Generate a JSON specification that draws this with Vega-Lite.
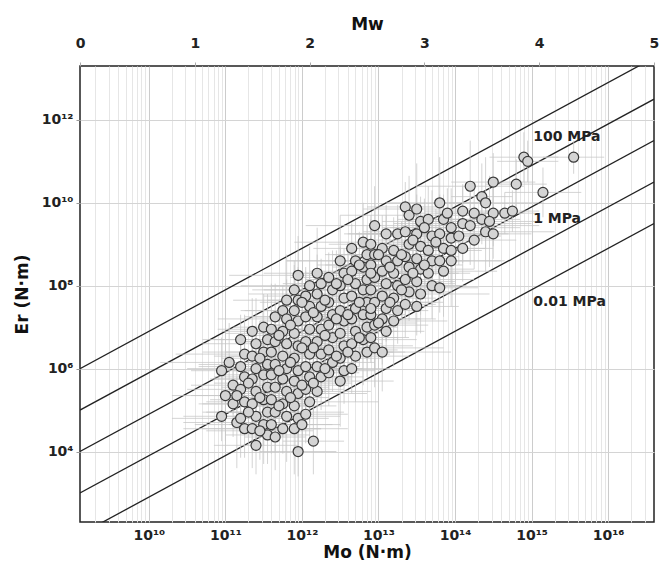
{
  "$schema": "https://vega.github.io/schema/vega-lite/v6.json",
  "width": 574,
  "height": 456,
  "autosize": "none",
  "padding": {"left": 80, "top": 66, "right": 6, "bottom": 44},
  "background": "white",
  "config": {
    "view": {"stroke": "#222", "strokeWidth": 1.5},
    "font": "DejaVu Sans"
  },
  "datasets": {
    "lines": [
      {"s": "100 MPa", "mo": 1.2589e9, "er": 1e6}, {"s": "100 MPa", "mo": 3.9811e16, "er": 3.162e13},
      {"s": "10 MPa", "mo": 1.2589e9, "er": 1e5}, {"s": "10 MPa", "mo": 3.9811e16, "er": 3.162e12},
      {"s": "1 MPa", "mo": 1.2589e9, "er": 1e4}, {"s": "1 MPa", "mo": 3.9811e16, "er": 3.162e11},
      {"s": "0.1 MPa", "mo": 1.2589e9, "er": 1e3}, {"s": "0.1 MPa", "mo": 3.9811e16, "er": 3.162e10},
      {"s": "0.01 MPa", "mo": 1.2589e9, "er": 1e2}, {"s": "0.01 MPa", "mo": 3.9811e16, "er": 3.162e9}
    ],
    "labels": [
      {"label": "100 MPa", "mo": 1.05e15, "er": 3.9e11},
      {"label": "1 MPa", "mo": 1.05e15, "er": 4.07e9},
      {"label": "0.01 MPa", "mo": 1.05e15, "er": 4.07e7}
    ],
    "pts": [
      {"mo":8.91e10,"er":8.91e5,"mo1":3.55e10,"mo2":2.24e11,"er1":1.41e5,"er2":5.62e6},
      {"mo":1e11,"er":2.24e5,"mo1":2e10,"mo2":5.01e11,"er1":1.78e4,"er2":2.82e6},
      {"mo":8.91e10,"er":7.08e4,"mo1":2.82e10,"mo2":2.82e11,"er1":1.78e4,"er2":2.82e5},
      {"mo":1.12e11,"er":1.41e6,"mo1":1.41e10,"mo2":8.91e11,"er1":1.58e5,"er2":1.26e7},
      {"mo":1.26e11,"er":3.98e5,"mo1":3.55e10,"mo2":4.47e11,"er1":7.94e4,"er2":2e6},
      {"mo":1.26e11,"er":1.41e5,"mo1":5.01e10,"mo2":3.16e11,"er1":2.24e4,"er2":8.91e5},
      {"mo":1.41e11,"er":5.01e4,"mo1":2.82e10,"mo2":7.08e11,"er1":3.98e3,"er2":6.31e5},
      {"mo":1.58e11,"er":5.01e6,"mo1":5.01e10,"mo2":5.01e11,"er1":1.26e6,"er2":2e7},
      {"mo":1.78e11,"er":2.24e6,"mo1":2.24e10,"mo2":1.41e12,"er1":2.51e5,"er2":2e7},
      {"mo":1.58e11,"er":1.12e6,"mo1":4.47e10,"mo2":5.62e11,"er1":2.24e5,"er2":5.62e6},
      {"mo":1.78e11,"er":6.31e5,"mo1":7.08e10,"mo2":4.47e11,"er1":1e5,"er2":3.98e6},
      {"mo":1.58e11,"er":3.16e5,"mo1":3.16e10,"mo2":7.94e11,"er1":2.51e4,"er2":3.98e6},
      {"mo":1.78e11,"er":1.58e5,"mo1":5.62e10,"mo2":5.62e11,"er1":3.98e4,"er2":6.31e5},
      {"mo":1.58e11,"er":6.31e4,"mo1":2e10,"mo2":1.26e12,"er1":7.08e3,"er2":5.62e5},
      {"mo":1.78e11,"er":3.55e4,"mo1":5.01e10,"mo2":6.31e11,"er1":7.08e3,"er2":1.78e5},
      {"mo":2.24e11,"er":7.94e6,"mo1":8.91e10,"mo2":5.62e11,"er1":1.26e6,"er2":5.01e7},
      {"mo":2.51e11,"er":3.98e6,"mo1":5.01e10,"mo2":1.26e12,"er1":3.16e5,"er2":5.01e7},
      {"mo":2.24e11,"er":2e6,"mo1":7.08e10,"mo2":7.08e11,"er1":5.01e5,"er2":7.94e6},
      {"mo":2.51e11,"er":1e6,"mo1":3.16e10,"mo2":2e12,"er1":1.12e5,"er2":8.91e6},
      {"mo":2.24e11,"er":5.62e5,"mo1":6.31e10,"mo2":7.94e11,"er1":1.12e5,"er2":2.82e6},
      {"mo":2.51e11,"er":2.82e5,"mo1":1e11,"mo2":6.31e11,"er1":4.47e4,"er2":1.78e6},
      {"mo":2.24e11,"er":1.41e5,"mo1":4.47e10,"mo2":1.12e12,"er1":1.12e4,"er2":1.78e6},
      {"mo":2.51e11,"er":7.08e4,"mo1":7.94e10,"mo2":7.94e11,"er1":1.78e4,"er2":2.82e5},
      {"mo":2.24e11,"er":3.55e4,"mo1":2.82e10,"mo2":1.78e12,"er1":3.98e3,"er2":3.16e5},
      {"mo":2.51e11,"er":1.41e4,"mo1":7.08e10,"mo2":8.91e11,"er1":2.82e3,"er2":7.08e4},
      {"mo":3.16e11,"er":1e7,"mo1":1.26e11,"mo2":7.94e11,"er1":1.58e6,"er2":6.31e7},
      {"mo":3.55e11,"er":5.01e6,"mo1":7.08e10,"mo2":1.78e12,"er1":3.98e5,"er2":6.31e7},
      {"mo":3.16e11,"er":2.51e6,"mo1":1e11,"mo2":1e12,"er1":6.31e5,"er2":1e7},
      {"mo":3.55e11,"er":1.26e6,"mo1":4.47e10,"mo2":2.82e12,"er1":1.41e5,"er2":1.12e7},
      {"mo":3.16e11,"er":7.08e5,"mo1":8.91e10,"mo2":1.12e12,"er1":1.41e5,"er2":3.55e6},
      {"mo":3.55e11,"er":3.55e5,"mo1":1.41e11,"mo2":8.91e11,"er1":5.62e4,"er2":2.24e6},
      {"mo":3.16e11,"er":1.78e5,"mo1":6.31e10,"mo2":1.58e12,"er1":1.41e4,"er2":2.24e6},
      {"mo":3.55e11,"er":8.91e4,"mo1":1.12e11,"mo2":1.12e12,"er1":2.24e4,"er2":3.55e5},
      {"mo":3.16e11,"er":4.47e4,"mo1":3.98e10,"mo2":2.51e12,"er1":5.01e3,"er2":3.98e5},
      {"mo":3.55e11,"er":2.51e4,"mo1":1e11,"mo2":1.26e12,"er1":5.01e3,"er2":1.26e5},
      {"mo":4.47e11,"er":1.78e7,"mo1":1.78e11,"mo2":1.12e12,"er1":2.82e6,"er2":1.12e8},
      {"mo":3.98e11,"er":8.91e6,"mo1":7.94e10,"mo2":2e12,"er1":7.08e5,"er2":1.12e8},
      {"mo":4.47e11,"er":4.47e6,"mo1":1.41e11,"mo2":1.41e12,"er1":1.12e6,"er2":1.78e7},
      {"mo":3.98e11,"er":2.51e6,"mo1":5.01e10,"mo2":3.16e12,"er1":2.82e5,"er2":2.24e7},
      {"mo":4.47e11,"er":1.26e6,"mo1":1.26e11,"mo2":1.58e12,"er1":2.51e5,"er2":6.31e6},
      {"mo":3.98e11,"er":7.08e5,"mo1":1.58e11,"mo2":1e12,"er1":1.12e5,"er2":4.47e6},
      {"mo":4.47e11,"er":3.55e5,"mo1":8.91e10,"mo2":2.24e12,"er1":2.82e4,"er2":4.47e6},
      {"mo":3.98e11,"er":1.78e5,"mo1":1.26e11,"mo2":1.26e12,"er1":4.47e4,"er2":7.08e5},
      {"mo":4.47e11,"er":8.91e4,"mo1":5.62e10,"mo2":3.55e12,"er1":1e4,"er2":7.94e5},
      {"mo":3.98e11,"er":4.47e4,"mo1":1.12e11,"mo2":1.41e12,"er1":8.91e3,"er2":2.24e5},
      {"mo":4.47e11,"er":2.24e4,"mo1":1.78e11,"mo2":1.12e12,"er1":3.55e3,"er2":1.41e5},
      {"mo":6.31e11,"er":4.47e7,"mo1":1.26e11,"mo2":3.16e12,"er1":3.55e6,"er2":5.62e8},
      {"mo":5.62e11,"er":2.51e7,"mo1":1.78e11,"mo2":1.78e12,"er1":6.31e6,"er2":1e8},
      {"mo":6.31e11,"er":1.58e7,"mo1":7.94e10,"mo2":5.01e12,"er1":1.78e6,"er2":1.41e8},
      {"mo":5.62e11,"er":7.94e6,"mo1":1.58e11,"mo2":2e12,"er1":1.58e6,"er2":3.98e7},
      {"mo":6.31e11,"er":3.98e6,"mo1":2.51e11,"mo2":1.58e12,"er1":6.31e5,"er2":2.51e7},
      {"mo":5.62e11,"er":2e6,"mo1":1.12e11,"mo2":2.82e12,"er1":1.58e5,"er2":2.51e7},
      {"mo":6.31e11,"er":1e6,"mo1":2e11,"mo2":2e12,"er1":2.51e5,"er2":3.98e6},
      {"mo":5.62e11,"er":5.62e5,"mo1":7.08e10,"mo2":4.47e12,"er1":6.31e4,"er2":5.01e6},
      {"mo":6.31e11,"er":2.82e5,"mo1":1.78e11,"mo2":2.24e12,"er1":5.62e4,"er2":1.41e6},
      {"mo":5.62e11,"er":1.41e5,"mo1":2.24e11,"mo2":1.41e12,"er1":2.24e4,"er2":8.91e5},
      {"mo":6.31e11,"er":7.08e4,"mo1":1.26e11,"mo2":3.16e12,"er1":5.62e3,"er2":8.91e5},
      {"mo":5.62e11,"er":3.55e4,"mo1":1.78e11,"mo2":1.78e12,"er1":8.91e3,"er2":1.41e5},
      {"mo":8.91e11,"er":1.78e8,"mo1":1.12e11,"mo2":7.08e12,"er1":2e7,"er2":1.58e9},
      {"mo":7.94e11,"er":7.94e7,"mo1":2.24e11,"mo2":2.82e12,"er1":1.58e7,"er2":3.98e8},
      {"mo":8.91e11,"er":4.47e7,"mo1":3.55e11,"mo2":2.24e12,"er1":7.08e6,"er2":2.82e8},
      {"mo":7.94e11,"er":2.51e7,"mo1":1.58e11,"mo2":3.98e12,"er1":2e6,"er2":3.16e8},
      {"mo":8.91e11,"er":1.41e7,"mo1":2.82e11,"mo2":2.82e12,"er1":3.55e6,"er2":5.62e7},
      {"mo":7.94e11,"er":7.08e6,"mo1":1e11,"mo2":6.31e12,"er1":7.94e5,"er2":6.31e7},
      {"mo":8.91e11,"er":3.55e6,"mo1":2.51e11,"mo2":3.16e12,"er1":7.08e5,"er2":1.78e7},
      {"mo":7.94e11,"er":1.78e6,"mo1":3.16e11,"mo2":2e12,"er1":2.82e5,"er2":1.12e7},
      {"mo":8.91e11,"er":8.91e5,"mo1":1.78e11,"mo2":4.47e12,"er1":7.08e4,"er2":1.12e7},
      {"mo":7.94e11,"er":5.01e5,"mo1":2.51e11,"mo2":2.51e12,"er1":1.26e5,"er2":2e6},
      {"mo":8.91e11,"er":2.51e5,"mo1":1.12e11,"mo2":7.08e12,"er1":2.82e4,"er2":2.24e6},
      {"mo":7.94e11,"er":1.26e5,"mo1":2.24e11,"mo2":2.82e12,"er1":2.51e4,"er2":6.31e5},
      {"mo":8.91e11,"er":6.31e4,"mo1":3.55e11,"mo2":2.24e12,"er1":1e4,"er2":3.98e5},
      {"mo":7.94e11,"er":3.55e4,"mo1":1.58e11,"mo2":3.98e12,"er1":2.82e3,"er2":4.47e5},
      {"mo":8.91e11,"er":1e4,"mo1":2.82e11,"mo2":2.82e12,"er1":2.51e3,"er2":3.98e4},
      {"mo":1.26e12,"er":1e8,"mo1":1.58e11,"mo2":1e13,"er1":1.12e7,"er2":8.91e8},
      {"mo":1.12e12,"er":5.62e7,"mo1":3.16e11,"mo2":3.98e12,"er1":1.12e7,"er2":2.82e8},
      {"mo":1.26e12,"er":3.16e7,"mo1":5.01e11,"mo2":3.16e12,"er1":5.01e6,"er2":2e8},
      {"mo":1.12e12,"er":1.78e7,"mo1":2.24e11,"mo2":5.62e12,"er1":1.41e6,"er2":2.24e8},
      {"mo":1.26e12,"er":8.91e6,"mo1":3.98e11,"mo2":3.98e12,"er1":2.24e6,"er2":3.55e7},
      {"mo":1.12e12,"er":4.47e6,"mo1":1.41e11,"mo2":8.91e12,"er1":5.01e5,"er2":3.98e7},
      {"mo":1.26e12,"er":2.24e6,"mo1":3.55e11,"mo2":4.47e12,"er1":4.47e5,"er2":1.12e7},
      {"mo":1.12e12,"er":1.12e6,"mo1":4.47e11,"mo2":2.82e12,"er1":1.78e5,"er2":7.08e6},
      {"mo":1.26e12,"er":6.31e5,"mo1":2.51e11,"mo2":6.31e12,"er1":5.01e4,"er2":7.94e6},
      {"mo":1.12e12,"er":3.16e5,"mo1":3.55e11,"mo2":3.55e12,"er1":7.94e4,"er2":1.26e6},
      {"mo":1.26e12,"er":1.58e5,"mo1":1.58e11,"mo2":1e13,"er1":1.78e4,"er2":1.41e6},
      {"mo":1.12e12,"er":7.94e4,"mo1":3.16e11,"mo2":3.98e12,"er1":1.58e4,"er2":3.98e5},
      {"mo":1.41e12,"er":1.78e4,"mo1":5.62e11,"mo2":3.55e12,"er1":2.82e3,"er2":1.12e5},
      {"mo":1.58e12,"er":2e8,"mo1":3.16e11,"mo2":7.94e12,"er1":1.58e7,"er2":2.51e9},
      {"mo":1.78e12,"er":1.12e8,"mo1":5.62e11,"mo2":5.62e12,"er1":2.82e7,"er2":4.47e8},
      {"mo":1.58e12,"er":6.31e7,"mo1":2e11,"mo2":1.26e13,"er1":7.08e6,"er2":5.62e8},
      {"mo":1.78e12,"er":3.16e7,"mo1":5.01e11,"mo2":6.31e12,"er1":6.31e6,"er2":1.58e8},
      {"mo":1.58e12,"er":1.78e7,"mo1":6.31e11,"mo2":3.98e12,"er1":2.82e6,"er2":1.12e8},
      {"mo":1.78e12,"er":8.91e6,"mo1":3.55e11,"mo2":8.91e12,"er1":7.08e5,"er2":1.12e8},
      {"mo":1.58e12,"er":4.47e6,"mo1":5.01e11,"mo2":5.01e12,"er1":1.12e6,"er2":1.78e7},
      {"mo":1.78e12,"er":2.24e6,"mo1":2.24e11,"mo2":1.41e13,"er1":2.51e5,"er2":2e7},
      {"mo":1.58e12,"er":1.12e6,"mo1":4.47e11,"mo2":5.62e12,"er1":2.24e5,"er2":5.62e6},
      {"mo":1.78e12,"er":6.31e5,"mo1":7.08e11,"mo2":4.47e12,"er1":1e5,"er2":3.98e6},
      {"mo":1.58e12,"er":2.82e5,"mo1":3.16e11,"mo2":7.94e12,"er1":2.24e4,"er2":3.55e6},
      {"mo":2.24e12,"er":1.58e8,"mo1":7.08e11,"mo2":7.08e12,"er1":3.98e7,"er2":6.31e8},
      {"mo":2.51e12,"er":7.94e7,"mo1":3.16e11,"mo2":2e13,"er1":8.91e6,"er2":7.08e8},
      {"mo":2.24e12,"er":3.98e7,"mo1":6.31e11,"mo2":7.94e12,"er1":7.94e6,"er2":2e8},
      {"mo":2.51e12,"er":2e7,"mo1":1e12,"mo2":6.31e12,"er1":3.16e6,"er2":1.26e8},
      {"mo":2.24e12,"er":1.12e7,"mo1":4.47e11,"mo2":1.12e13,"er1":8.91e5,"er2":1.41e8},
      {"mo":2.51e12,"er":5.62e6,"mo1":7.94e11,"mo2":7.94e12,"er1":1.41e6,"er2":2.24e7},
      {"mo":2.24e12,"er":2.82e6,"mo1":2.82e11,"mo2":1.78e13,"er1":3.16e5,"er2":2.51e7},
      {"mo":2.51e12,"er":1.41e6,"mo1":7.08e11,"mo2":8.91e12,"er1":2.82e5,"er2":7.08e6},
      {"mo":2.24e12,"er":7.94e5,"mo1":8.91e11,"mo2":5.62e12,"er1":1.26e5,"er2":5.01e6},
      {"mo":3.16e12,"er":3.98e8,"mo1":6.31e11,"mo2":1.58e13,"er1":3.16e7,"er2":5.01e9},
      {"mo":3.55e12,"er":2e8,"mo1":1.12e12,"mo2":1.12e13,"er1":5.01e7,"er2":7.94e8},
      {"mo":3.16e12,"er":1e8,"mo1":3.98e11,"mo2":2.51e13,"er1":1.12e7,"er2":8.91e8},
      {"mo":3.55e12,"er":5.01e7,"mo1":1e12,"mo2":1.26e13,"er1":1e7,"er2":2.51e8},
      {"mo":3.16e12,"er":2.51e7,"mo1":1.26e12,"mo2":7.94e12,"er1":3.98e6,"er2":1.58e8},
      {"mo":3.55e12,"er":1.41e7,"mo1":7.08e11,"mo2":1.78e13,"er1":1.12e6,"er2":1.78e8},
      {"mo":3.16e12,"er":7.08e6,"mo1":1e12,"mo2":1e13,"er1":1.78e6,"er2":2.82e7},
      {"mo":3.55e12,"er":3.55e6,"mo1":4.47e11,"mo2":2.82e13,"er1":3.98e5,"er2":3.16e7},
      {"mo":3.16e12,"er":1.78e6,"mo1":8.91e11,"mo2":1.12e13,"er1":3.55e5,"er2":8.91e6},
      {"mo":3.55e12,"er":8.91e5,"mo1":1.41e12,"mo2":8.91e12,"er1":1.41e5,"er2":5.62e6},
      {"mo":3.16e12,"er":5.01e5,"mo1":6.31e11,"mo2":1.58e13,"er1":3.98e4,"er2":6.31e6},
      {"mo":4.47e12,"er":7.94e8,"mo1":1.41e12,"mo2":1.41e13,"er1":2e8,"er2":3.16e9},
      {"mo":5.01e12,"er":3.98e8,"mo1":6.31e11,"mo2":3.98e13,"er1":4.47e7,"er2":3.55e9},
      {"mo":4.47e12,"er":2.24e8,"mo1":1.26e12,"mo2":1.58e13,"er1":4.47e7,"er2":1.12e9},
      {"mo":5.01e12,"er":1.12e8,"mo1":2e12,"mo2":1.26e13,"er1":1.78e7,"er2":7.08e8},
      {"mo":4.47e12,"er":5.62e7,"mo1":8.91e11,"mo2":2.24e13,"er1":4.47e6,"er2":7.08e8},
      {"mo":5.01e12,"er":2.82e7,"mo1":1.58e12,"mo2":1.58e13,"er1":7.08e6,"er2":1.12e8},
      {"mo":4.47e12,"er":1.58e7,"mo1":5.62e11,"mo2":3.55e13,"er1":1.78e6,"er2":1.41e8},
      {"mo":5.01e12,"er":7.94e6,"mo1":1.41e12,"mo2":1.78e13,"er1":1.58e6,"er2":3.98e7},
      {"mo":4.47e12,"er":3.98e6,"mo1":1.78e12,"mo2":1.12e13,"er1":6.31e5,"er2":2.51e7},
      {"mo":5.01e12,"er":2e6,"mo1":1e12,"mo2":2.51e13,"er1":1.58e5,"er2":2.51e7},
      {"mo":4.47e12,"er":1e6,"mo1":1.41e12,"mo2":1.41e13,"er1":2.51e5,"er2":3.98e6},
      {"mo":6.31e12,"er":1.12e9,"mo1":7.94e11,"mo2":5.01e13,"er1":1.26e8,"er2":1e10},
      {"mo":7.08e12,"er":5.62e8,"mo1":2e12,"mo2":2.51e13,"er1":1.12e8,"er2":2.82e9},
      {"mo":6.31e12,"er":2.82e8,"mo1":2.51e12,"mo2":1.58e13,"er1":4.47e7,"er2":1.78e9},
      {"mo":7.08e12,"er":1.41e8,"mo1":1.41e12,"mo2":3.55e13,"er1":1.12e7,"er2":1.78e9},
      {"mo":6.31e12,"er":7.94e7,"mo1":2e12,"mo2":2e13,"er1":2e7,"er2":3.16e8},
      {"mo":7.08e12,"er":3.98e7,"mo1":8.91e11,"mo2":5.62e13,"er1":4.47e6,"er2":3.55e8},
      {"mo":6.31e12,"er":2e7,"mo1":1.78e12,"mo2":2.24e13,"er1":3.98e6,"er2":1e8},
      {"mo":7.08e12,"er":1e7,"mo1":2.82e12,"mo2":1.78e13,"er1":1.58e6,"er2":6.31e7},
      {"mo":6.31e12,"er":5.01e6,"mo1":1.26e12,"mo2":3.16e13,"er1":3.98e5,"er2":6.31e7},
      {"mo":7.08e12,"er":2.51e6,"mo1":2.24e12,"mo2":2.24e13,"er1":6.31e5,"er2":1e7},
      {"mo":8.91e12,"er":2.82e9,"mo1":1.12e12,"mo2":7.08e13,"er1":3.16e8,"er2":2.51e10},
      {"mo":7.94e12,"er":1e9,"mo1":2.24e12,"mo2":2.82e13,"er1":2e8,"er2":5.01e9},
      {"mo":8.91e12,"er":5.62e8,"mo1":3.55e12,"mo2":2.24e13,"er1":8.91e7,"er2":3.55e9},
      {"mo":7.94e12,"er":3.16e8,"mo1":1.58e12,"mo2":3.98e13,"er1":2.51e7,"er2":3.98e9},
      {"mo":8.91e12,"er":1.58e8,"mo1":2.82e12,"mo2":2.82e13,"er1":3.98e7,"er2":6.31e8},
      {"mo":7.94e12,"er":7.94e7,"mo1":1e12,"mo2":6.31e13,"er1":8.91e6,"er2":7.08e8},
      {"mo":8.91e12,"er":3.98e7,"mo1":2.51e12,"mo2":3.16e13,"er1":7.94e6,"er2":2e8},
      {"mo":7.94e12,"er":2e7,"mo1":3.16e12,"mo2":2e13,"er1":3.16e6,"er2":1.26e8},
      {"mo":8.91e12,"er":1.12e7,"mo1":1.78e12,"mo2":4.47e13,"er1":8.91e5,"er2":1.41e8},
      {"mo":7.94e12,"er":5.62e6,"mo1":2.51e12,"mo2":2.51e13,"er1":1.41e6,"er2":2.24e7},
      {"mo":8.91e12,"er":3.16e6,"mo1":1.12e12,"mo2":7.08e13,"er1":3.55e5,"er2":2.82e7},
      {"mo":1.26e13,"er":1.78e9,"mo1":3.55e12,"mo2":4.47e13,"er1":3.55e8,"er2":8.91e9},
      {"mo":1.12e13,"er":7.94e8,"mo1":4.47e12,"mo2":2.82e13,"er1":1.26e8,"er2":5.01e9},
      {"mo":1.26e13,"er":3.98e8,"mo1":2.51e12,"mo2":6.31e13,"er1":3.16e7,"er2":5.01e9},
      {"mo":1.12e13,"er":2.24e8,"mo1":3.55e12,"mo2":3.55e13,"er1":5.62e7,"er2":8.91e8},
      {"mo":1.26e13,"er":1.12e8,"mo1":1.58e12,"mo2":1e14,"er1":1.26e7,"er2":1e9},
      {"mo":1.12e13,"er":5.62e7,"mo1":3.16e12,"mo2":3.98e13,"er1":1.12e7,"er2":2.82e8},
      {"mo":1.26e13,"er":2.82e7,"mo1":5.01e12,"mo2":3.16e13,"er1":4.47e6,"er2":1.78e8},
      {"mo":1.12e13,"er":1.58e7,"mo1":2.24e12,"mo2":5.62e13,"er1":1.26e6,"er2":2e8},
      {"mo":1.26e13,"er":7.94e6,"mo1":3.98e12,"mo2":3.98e13,"er1":2e6,"er2":3.16e7},
      {"mo":1.12e13,"er":2.51e6,"mo1":1.41e12,"mo2":8.91e13,"er1":2.82e5,"er2":2.24e7},
      {"mo":1.78e13,"er":1.78e9,"mo1":5.01e12,"mo2":6.31e13,"er1":3.55e8,"er2":8.91e9},
      {"mo":1.58e13,"er":7.08e8,"mo1":6.31e12,"mo2":3.98e13,"er1":1.12e8,"er2":4.47e9},
      {"mo":1.78e13,"er":3.98e8,"mo1":3.55e12,"mo2":8.91e13,"er1":3.16e7,"er2":5.01e9},
      {"mo":1.58e13,"er":2e8,"mo1":5.01e12,"mo2":5.01e13,"er1":5.01e7,"er2":7.94e8},
      {"mo":1.78e13,"er":1e8,"mo1":2.24e12,"mo2":1.41e14,"er1":1.12e7,"er2":8.91e8},
      {"mo":1.58e13,"er":5.01e7,"mo1":4.47e12,"mo2":5.62e13,"er1":1e7,"er2":2.51e8},
      {"mo":1.78e13,"er":2.51e7,"mo1":7.08e12,"mo2":4.47e13,"er1":3.98e6,"er2":1.58e8},
      {"mo":1.58e13,"er":1.41e7,"mo1":3.16e12,"mo2":7.94e13,"er1":1.12e6,"er2":1.78e8},
      {"mo":2.24e13,"er":7.94e9,"mo1":7.08e12,"mo2":7.08e13,"er1":2e9,"er2":3.16e10},
      {"mo":2.51e13,"er":5.01e9,"mo1":3.16e12,"mo2":2e14,"er1":5.62e8,"er2":4.47e10},
      {"mo":2.24e13,"er":2e9,"mo1":6.31e12,"mo2":7.94e13,"er1":3.98e8,"er2":1e10},
      {"mo":2.51e13,"er":1e9,"mo1":1e13,"mo2":6.31e13,"er1":1.58e8,"er2":6.31e9},
      {"mo":2.24e13,"er":5.01e8,"mo1":4.47e12,"mo2":1.12e14,"er1":3.98e7,"er2":6.31e9},
      {"mo":2.51e13,"er":2.82e8,"mo1":7.94e12,"mo2":7.94e13,"er1":7.08e7,"er2":1.12e9},
      {"mo":2.24e13,"er":1.41e8,"mo1":2.82e12,"mo2":1.78e14,"er1":1.58e7,"er2":1.26e9},
      {"mo":2.51e13,"er":7.08e7,"mo1":7.08e12,"mo2":8.91e13,"er1":1.41e7,"er2":3.55e8},
      {"mo":2.24e13,"er":3.55e7,"mo1":8.91e12,"mo2":5.62e13,"er1":5.62e6,"er2":2.24e8},
      {"mo":3.16e13,"er":7.08e9,"mo1":6.31e12,"mo2":1.58e14,"er1":5.62e8,"er2":8.91e10},
      {"mo":3.55e13,"er":3.55e9,"mo1":1.12e13,"mo2":1.12e14,"er1":8.91e8,"er2":1.41e10},
      {"mo":3.16e13,"er":1.78e9,"mo1":3.98e12,"mo2":2.51e14,"er1":2e8,"er2":1.58e10},
      {"mo":3.55e13,"er":8.91e8,"mo1":1e13,"mo2":1.26e14,"er1":1.78e8,"er2":4.47e9},
      {"mo":3.16e13,"er":4.47e8,"mo1":1.26e13,"mo2":7.94e13,"er1":7.08e7,"er2":2.82e9},
      {"mo":3.55e13,"er":2.51e8,"mo1":7.08e12,"mo2":1.78e14,"er1":2e7,"er2":3.16e9},
      {"mo":3.16e13,"er":1.26e8,"mo1":1e13,"mo2":1e14,"er1":3.16e7,"er2":5.01e8},
      {"mo":3.55e13,"er":6.31e7,"mo1":4.47e12,"mo2":2.82e14,"er1":7.08e6,"er2":5.62e8},
      {"mo":3.16e13,"er":3.16e7,"mo1":8.91e12,"mo2":1.12e14,"er1":6.31e6,"er2":1.58e8},
      {"mo":4.47e13,"er":3.98e9,"mo1":1.78e13,"mo2":1.12e14,"er1":6.31e8,"er2":2.51e10},
      {"mo":5.01e13,"er":1.58e9,"mo1":1e13,"mo2":2.51e14,"er1":1.26e8,"er2":2e10},
      {"mo":4.47e13,"er":7.08e8,"mo1":1.41e13,"mo2":1.41e14,"er1":1.78e8,"er2":2.82e9},
      {"mo":5.01e13,"er":3.98e8,"mo1":6.31e12,"mo2":3.98e14,"er1":4.47e7,"er2":3.55e9},
      {"mo":4.47e13,"er":2e8,"mo1":1.26e13,"mo2":1.58e14,"er1":3.98e7,"er2":1e9},
      {"mo":5.01e13,"er":1e8,"mo1":2e13,"mo2":1.26e14,"er1":1.58e7,"er2":6.31e8},
      {"mo":6.31e13,"er":1e10,"mo1":1.26e13,"mo2":3.16e14,"er1":7.94e8,"er2":1.26e11},
      {"mo":7.08e13,"er":3.98e9,"mo1":2.24e13,"mo2":2.24e14,"er1":1e9,"er2":1.58e10},
      {"mo":6.31e13,"er":1.78e9,"mo1":7.94e12,"mo2":5.01e14,"er1":2e8,"er2":1.58e10},
      {"mo":7.08e13,"er":7.94e8,"mo1":2e13,"mo2":2.51e14,"er1":1.58e8,"er2":3.98e9},
      {"mo":6.31e13,"er":3.98e8,"mo1":2.51e13,"mo2":1.58e14,"er1":6.31e7,"er2":2.51e9},
      {"mo":7.08e13,"er":2.24e8,"mo1":1.41e13,"mo2":3.55e14,"er1":1.78e7,"er2":2.82e9},
      {"mo":6.31e13,"er":8.91e7,"mo1":2e13,"mo2":2e14,"er1":2.24e7,"er2":3.55e8},
      {"mo":8.91e13,"er":2.51e9,"mo1":1.12e13,"mo2":7.08e14,"er1":2.82e8,"er2":2.24e10},
      {"mo":8.91e13,"er":1.41e9,"mo1":2.51e13,"mo2":3.16e14,"er1":2.82e8,"er2":7.08e9},
      {"mo":8.91e13,"er":7.08e8,"mo1":3.55e13,"mo2":2.24e14,"er1":1.12e8,"er2":4.47e9},
      {"mo":8.91e13,"er":3.98e8,"mo1":1.78e13,"mo2":4.47e14,"er1":3.16e7,"er2":5.01e9},
      {"mo":1.26e14,"er":6.31e9,"mo1":3.98e13,"mo2":3.98e14,"er1":1.58e9,"er2":2.51e10},
      {"mo":1.26e14,"er":3.16e9,"mo1":1.58e13,"mo2":1e15,"er1":3.55e8,"er2":2.82e10},
      {"mo":1.12e14,"er":1.58e9,"mo1":3.16e13,"mo2":3.98e14,"er1":3.16e8,"er2":7.94e9},
      {"mo":1.26e14,"er":7.94e8,"mo1":5.01e13,"mo2":3.16e14,"er1":1.26e8,"er2":5.01e9},
      {"mo":1.58e14,"er":2.51e10,"mo1":3.16e13,"mo2":7.94e14,"er1":2e9,"er2":3.16e11},
      {"mo":1.78e14,"er":5.62e9,"mo1":5.62e13,"mo2":5.62e14,"er1":1.41e9,"er2":2.24e10},
      {"mo":1.58e14,"er":2.82e9,"mo1":2e13,"mo2":1.26e15,"er1":3.16e8,"er2":2.51e10},
      {"mo":1.78e14,"er":1.26e9,"mo1":5.01e13,"mo2":6.31e14,"er1":2.51e8,"er2":6.31e9},
      {"mo":2.24e14,"er":1.41e10,"mo1":8.91e13,"mo2":5.62e14,"er1":2.24e9,"er2":8.91e10},
      {"mo":2.51e14,"er":1e10,"mo1":5.01e13,"mo2":1.26e15,"er1":7.94e8,"er2":1.26e11},
      {"mo":2.24e14,"er":3.98e9,"mo1":7.08e13,"mo2":7.08e14,"er1":1e9,"er2":1.58e10},
      {"mo":2.51e14,"er":2e9,"mo1":3.16e13,"mo2":2e15,"er1":2.24e8,"er2":1.78e10},
      {"mo":3.16e14,"er":3.16e10,"mo1":8.91e13,"mo2":1.12e15,"er1":6.31e9,"er2":1.58e11},
      {"mo":3.16e14,"er":5.62e9,"mo1":1.26e14,"mo2":7.94e14,"er1":8.91e8,"er2":3.55e10},
      {"mo":2.82e14,"er":3.55e9,"mo1":5.62e13,"mo2":1.41e15,"er1":2.82e8,"er2":4.47e10},
      {"mo":3.16e14,"er":1.78e9,"mo1":1e14,"mo2":1e15,"er1":4.47e8,"er2":7.08e9},
      {"mo":4.47e14,"er":5.62e9,"mo1":1.78e14,"mo2":1.12e15,"er1":1.78e9,"er2":1.78e10},
      {"mo":5.62e14,"er":6.31e9,"mo1":2.51e14,"mo2":1.26e15,"er1":2e9,"er2":2e10},
      {"mo":6.31e14,"er":2.82e10,"mo1":2.51e14,"mo2":1.58e15,"er1":7.08e9,"er2":1.12e11},
      {"mo":7.94e14,"er":1.26e11,"mo1":2.82e14,"mo2":2.24e15,"er1":3.16e10,"er2":5.01e11},
      {"mo":8.91e14,"er":1e11,"mo1":3.55e14,"mo2":2.24e15,"er1":3.16e10,"er2":3.16e11},
      {"mo":1.41e15,"er":1.78e10,"mo1":4.47e14,"mo2":4.47e15,"er1":4.47e9,"er2":7.08e10},
      {"mo":3.55e15,"er":1.26e11,"mo1":1.41e15,"mo2":8.91e15,"er1":5.01e10,"er2":3.16e11},
      {"mo":2e11,"er":4.47e5,"mo1":7.08e10,"mo2":5.62e11,"er1":8.91e4,"er2":2.24e6},
      {"mo":2e11,"er":8.91e4,"mo1":5.01e10,"mo2":7.94e11,"er1":1.41e4,"er2":5.62e5},
      {"mo":2.82e11,"er":1.78e6,"mo1":8.91e10,"mo2":8.91e11,"er1":2.24e5,"er2":1.41e7},
      {"mo":2.82e11,"er":2e5,"mo1":1.12e11,"mo2":7.08e11,"er1":5.01e4,"er2":7.94e5},
      {"mo":2.82e11,"er":3.16e4,"mo1":5.62e10,"mo2":1.41e12,"er1":6.31e3,"er2":1.58e5},
      {"mo":5.01e11,"er":6.31e6,"mo1":1.58e11,"mo2":1.58e12,"er1":1e6,"er2":3.98e7},
      {"mo":5.01e11,"er":8.91e5,"mo1":1.26e11,"mo2":2e12,"er1":1.78e5,"er2":4.47e6},
      {"mo":5.01e11,"er":1.26e5,"mo1":1.78e11,"mo2":1.41e12,"er1":3.16e4,"er2":5.01e5},
      {"mo":7.08e11,"er":1.12e7,"mo1":2.82e11,"mo2":1.78e12,"er1":1.41e6,"er2":8.91e7},
      {"mo":7.08e11,"er":1.41e6,"mo1":1.41e11,"mo2":3.55e12,"er1":3.55e5,"er2":5.62e6},
      {"mo":7.08e11,"er":2e5,"mo1":2.24e11,"mo2":2.24e12,"er1":3.16e4,"er2":1.26e6},
      {"mo":1e12,"er":3.98e7,"mo1":2.82e11,"mo2":3.55e12,"er1":7.94e6,"er2":2e8},
      {"mo":1e12,"er":3.16e6,"mo1":3.55e11,"mo2":2.82e12,"er1":7.94e5,"er2":1.26e7},
      {"mo":1e12,"er":3.98e5,"mo1":2.51e11,"mo2":3.98e12,"er1":5.01e4,"er2":3.16e6},
      {"mo":1e12,"er":4.47e4,"mo1":3.16e11,"mo2":3.16e12,"er1":8.91e3,"er2":2.24e5},
      {"mo":1.41e12,"er":2.24e7,"mo1":5.62e11,"mo2":3.55e12,"er1":3.55e6,"er2":1.41e8},
      {"mo":1.41e12,"er":3.16e6,"mo1":2.82e11,"mo2":7.08e12,"er1":7.94e5,"er2":1.26e7},
      {"mo":1.41e12,"er":4.47e5,"mo1":4.47e11,"mo2":4.47e12,"er1":7.08e4,"er2":2.82e6},
      {"mo":2e12,"er":4.47e7,"mo1":5.01e11,"mo2":7.94e12,"er1":8.91e6,"er2":2.24e8},
      {"mo":2e12,"er":6.31e6,"mo1":7.08e11,"mo2":5.62e12,"er1":7.94e5,"er2":5.01e7},
      {"mo":2e12,"er":1e6,"mo1":6.31e11,"mo2":6.31e12,"er1":2.51e5,"er2":3.98e6},
      {"mo":2.82e12,"er":1.12e8,"mo1":8.91e11,"mo2":8.91e12,"er1":1.78e7,"er2":7.08e8},
      {"mo":2.82e12,"er":1.58e7,"mo1":5.62e11,"mo2":1.41e13,"er1":3.16e6,"er2":7.94e7},
      {"mo":2.82e12,"er":2e6,"mo1":1.12e12,"mo2":7.08e12,"er1":5.01e5,"er2":7.94e6},
      {"mo":3.98e12,"er":1.41e8,"mo1":1.12e12,"mo2":1.41e13,"er1":1.78e7,"er2":1.12e9},
      {"mo":3.98e12,"er":2e7,"mo1":1.26e12,"mo2":1.26e13,"er1":5.01e6,"er2":7.94e7},
      {"mo":3.98e12,"er":2.51e6,"mo1":1e12,"mo2":1.58e13,"er1":5.01e5,"er2":1.26e7},
      {"mo":5.62e12,"er":3.16e8,"mo1":2e12,"mo2":1.58e13,"er1":5.01e7,"er2":2e9},
      {"mo":5.62e12,"er":3.98e7,"mo1":1.12e12,"mo2":2.82e13,"er1":1e7,"er2":1.58e8},
      {"mo":5.62e12,"er":5.62e6,"mo1":1.78e12,"mo2":1.78e13,"er1":1.12e6,"er2":2.82e7},
      {"mo":7.94e12,"er":2e8,"mo1":2.51e12,"mo2":2.51e13,"er1":2.51e7,"er2":1.58e9},
      {"mo":7.94e12,"er":2.82e7,"mo1":3.16e12,"mo2":2e13,"er1":5.62e6,"er2":1.41e8},
      {"mo":1e13,"er":5.62e8,"mo1":2.51e12,"mo2":3.98e13,"er1":1.41e8,"er2":2.24e9},
      {"mo":1e13,"er":1.26e7,"mo1":3.16e12,"mo2":3.16e13,"er1":2e6,"er2":7.94e7},
      {"mo":1.41e13,"er":2.82e8,"mo1":5.01e12,"mo2":3.98e13,"er1":5.62e7,"er2":1.41e9},
      {"mo":1.41e13,"er":3.98e7,"mo1":2.82e12,"mo2":7.08e13,"er1":1e7,"er2":1.58e8},
      {"mo":2e13,"er":5.62e8,"mo1":6.31e12,"mo2":6.31e13,"er1":8.91e7,"er2":3.55e9},
      {"mo":2e13,"er":7.94e7,"mo1":5.62e12,"mo2":7.08e13,"er1":1.58e7,"er2":3.98e8},
      {"mo":2.82e13,"er":1.26e9,"mo1":8.91e12,"mo2":8.91e13,"er1":3.16e8,"er2":5.01e9},
      {"mo":2.82e13,"er":2e8,"mo1":7.08e12,"mo2":1.12e14,"er1":3.16e7,"er2":1.26e9},
      {"mo":3.98e13,"er":2.51e9,"mo1":1.41e13,"mo2":1.12e14,"er1":5.01e8,"er2":1.26e10},
      {"mo":3.98e13,"er":3.16e8,"mo1":1.26e13,"mo2":1.26e14,"er1":7.94e7,"er2":1.26e9},
      {"mo":5.62e13,"er":1.12e9,"mo1":1.78e13,"mo2":1.78e14,"er1":1.78e8,"er2":7.08e9},
      {"mo":7.94e13,"er":5.62e9,"mo1":3.16e13,"mo2":2e14,"er1":1.41e9,"er2":2.24e10},
      {"mo":1.41e11,"er":2.24e5,"mo1":3.55e10,"mo2":5.62e11,"er1":4.47e4,"er2":1.12e6}
    ]
  },
  "resolve": {"axis": {"x": "independent", "y": "independent"}},
  "layer": [
    {
      "data": {"name": "lines"},
      "mark": {"type": "line", "clip": true, "color": "#222222", "strokeWidth": 1.3},
      "encoding": {
        "x": {"field": "mo", "type": "quantitative", "scale": {"type": "log", "domain": [1.2589e9, 3.9811e16], "nice": false}, "axis": null},
        "y": {"field": "er", "type": "quantitative", "scale": {"type": "log", "domain": [199.526, 1.995e13], "nice": false}, "axis": null},
        "detail": {"field": "s"}
      }
    },
    {
      "data": {"name": "pts"},
      "mark": {"type": "rule", "color": "#c6c6c6", "strokeWidth": 1, "opacity": 0.75},
      "encoding": {
        "x": {"field": "mo1", "type": "quantitative", "scale": {"type": "log", "domain": [1.2589e9, 3.9811e16], "nice": false}, "axis": null},
        "x2": {"field": "mo2"},
        "y": {"field": "er", "type": "quantitative", "scale": {"type": "log", "domain": [199.526, 1.995e13], "nice": false}, "axis": null}
      }
    },
    {
      "data": {"name": "pts"},
      "mark": {"type": "rule", "color": "#c6c6c6", "strokeWidth": 1, "opacity": 0.75},
      "encoding": {
        "x": {"field": "mo", "type": "quantitative", "scale": {"type": "log", "domain": [1.2589e9, 3.9811e16], "nice": false}, "axis": null},
        "y": {"field": "er1", "type": "quantitative", "scale": {"type": "log", "domain": [199.526, 1.995e13], "nice": false}, "axis": null},
        "y2": {"field": "er2"}
      }
    },
    {
      "data": {"name": "pts"},
      "mark": {"type": "circle", "size": 100, "fill": "#d4d4d4", "stroke": "#383838", "strokeWidth": 1.2, "opacity": 1},
      "encoding": {
        "x": {
          "field": "mo", "type": "quantitative",
          "scale": {"type": "log", "domain": [1.2589e9, 3.9811e16], "nice": false},
          "axis": {
            "orient": "bottom",
            "values": [2e9,3e9,4e9,5e9,6e9,7e9,8e9,9e9,1e10,2e10,3e10,4e10,5e10,6e10,7e10,8e10,9e10,1e11,2e11,3e11,4e11,5e11,6e11,7e11,8e11,9e11,1e12,2e12,3e12,4e12,5e12,6e12,7e12,8e12,9e12,1e13,2e13,3e13,4e13,5e13,6e13,7e13,8e13,9e13,1e14,2e14,3e14,4e14,5e14,6e14,7e14,8e14,9e14,1e15,2e15,3e15,4e15,5e15,6e15,7e15,8e15,9e15,1e16,2e16,3e16],
            "labelExpr": "datum.value == 10000000000 ? '10¹⁰' : datum.value == 100000000000 ? '10¹¹' : datum.value == 1000000000000 ? '10¹²' : datum.value == 10000000000000 ? '10¹³' : datum.value == 100000000000000 ? '10¹⁴' : datum.value == 1000000000000000 ? '10¹⁵' : datum.value == 10000000000000000 ? '10¹⁶' : ''",
            "grid": true,
            "gridColor": {"condition": {"test": "abs(log(datum.value)/LN10 - round(log(datum.value)/LN10)) < 0.001", "value": "#cccccc"}, "value": "#e6e6e6"},
            "gridWidth": 1,
            "ticks": false,
            "domain": false,
            "labelPadding": 6,
            "labelFont": "DejaVu Sans", "labelFontWeight": "bold", "labelFontSize": 14, "labelColor": "#222222",
            "labelOverlap": false, "labelFlush": false,
            "title": "Mo (N·m)", "titleFont": "DejaVu Sans", "titleFontWeight": "bold", "titleFontSize": 17, "titleColor": "#111111", "titlePadding": 2
          }
        },
        "y": {
          "field": "er", "type": "quantitative",
          "scale": {"type": "log", "domain": [199.526, 1.995e13], "nice": false},
          "axis": {
            "orient": "left",
            "values": [1e4, 1e6, 1e8, 1e10, 1e12],
            "labelExpr": "datum.value == 10000 ? '10⁴' : datum.value == 1000000 ? '10⁶' : datum.value == 100000000 ? '10⁸' : datum.value == 10000000000 ? '10¹⁰' : '10¹²'",
            "grid": true, "gridColor": "#d4d4d4", "gridWidth": 1,
            "ticks": true, "tickSize": 4, "tickColor": "#999999",
            "domain": false,
            "labelPadding": 3,
            "labelFont": "DejaVu Sans", "labelFontWeight": "bold", "labelFontSize": 14, "labelColor": "#222222",
            "title": "Er (N·m)", "titleFont": "DejaVu Sans", "titleFontWeight": "bold", "titleFontSize": 17, "titleColor": "#111111", "titlePadding": 10
          }
        }
      }
    },
    {
      "data": {"name": "labels"},
      "mark": {"type": "text", "align": "left", "baseline": "middle", "font": "DejaVu Sans", "fontWeight": "bold", "fontSize": 14, "color": "#222222"},
      "encoding": {
        "x": {
          "field": "mo", "type": "quantitative",
          "scale": {"type": "log", "domain": [1.2589e9, 3.9811e16], "nice": false},
          "axis": {
            "orient": "top",
            "values": [1.259e9, 3.981e10, 1.259e12, 3.981e13, 1.259e15, 3.98e16],
            "labelExpr": "format((log(datum.value)/LN10 - 9.1)/1.5, '.0f')",
            "grid": false, "ticks": true, "tickSize": 4, "tickColor": "#aaaaaa",
            "domain": false,
            "labelPadding": 12,
            "labelFont": "DejaVu Sans", "labelFontWeight": "bold", "labelFontSize": 14, "labelColor": "#222222",
            "labelFlush": false, "labelOverlap": false,
            "title": "Mw", "titleFont": "DejaVu Sans", "titleFontWeight": "bold", "titleFontSize": 17, "titleColor": "#111111", "titlePadding": 3
          }
        },
        "y": {"field": "er", "type": "quantitative", "scale": {"type": "log", "domain": [199.526, 1.995e13], "nice": false}, "axis": null},
        "text": {"field": "label"}
      }
    }
  ]
}
